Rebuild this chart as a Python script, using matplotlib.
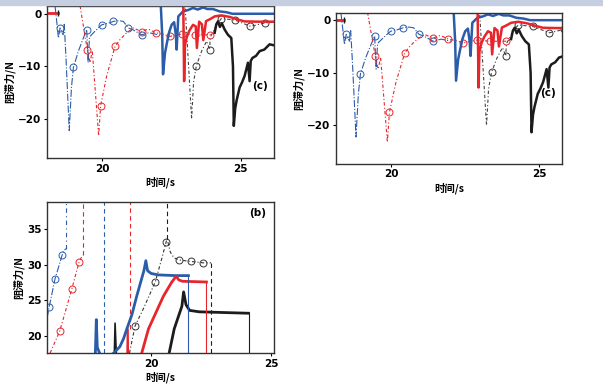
import matplotlib
matplotlib.use("Agg")
import matplotlib.pyplot as plt
from matplotlib.patches import Rectangle

plt.rcParams['font.family'] = ['Noto Sans CJK SC', 'DejaVu Sans']
plt.rcParams['font.weight'] = 'bold'

BLUE = '#2a5caa'
RED = '#e8252b'
BLACK = '#1c1c1c'

# ---- panel (c): drag force while leaving ----
c_red_start_x = [18.0, 18.4]
c_red_start_y = [0.1, 0.1]

c_blue_dd_x = [18.31, 18.38, 18.43, 18.49, 18.6, 18.64, 18.7, 18.82, 18.9, 18.97,
               19.15, 19.33, 19.45, 19.5, 19.55, 19.75, 19.93, 19.99, 20.23,
               20.41, 20.6, 20.77, 20.95, 21.1, 21.43, 21.7, 22.03]
c_blue_dd_y = [1.4, -2.0, -4.6, -2.7, -4.0, -2.0, -8.0, -22.2, -14.0, -10.2,
               -7.1, -4.6, -3.0, -9.3, -4.4, -3.3, -2.4, -2.1, -1.8,
               -1.45, -1.3, -1.45, -2.7, -3.0, -4.0, -3.6, -4.0]
c_blue_circ_x = [18.49, 18.97, 19.45, 19.99, 20.41, 20.95, 21.43]
c_blue_circ_y = [-2.7, -10.2, -3.0, -2.1, -1.45, -2.7, -4.0]

c_red_dd_x = [19.21, 19.35, 19.47, 19.57, 19.65, 19.88, 19.95, 20.17, 20.47, 20.65,
              20.89, 21.13, 21.43, 21.67, 21.94, 22.2, 22.45, 22.9, 23.35, 23.88, 24.0]
c_red_dd_y = [1.5, -3.0, -6.8, -9.3, -7.0, -23.2, -17.5, -11.8, -6.2, -4.9,
              -3.6, -2.7, -3.4, -2.9, -3.6, -3.9, -4.3, -3.8, -4.0, -4.0, -3.8]
c_red_circ_x = [19.47, 19.95, 20.47, 21.43, 21.94, 22.45, 22.9, 23.35, 23.88]
c_red_circ_y = [-6.8, -17.5, -6.2, -3.4, -3.6, -4.3, -3.8, -4.0, -4.0]

c_black_dd_x = [23.0, 23.1, 23.23, 23.3, 23.4, 23.59, 23.77, 23.88, 23.9, 24.13,
                24.3, 24.8, 25.35, 25.86, 26.2]
c_black_dd_y = [1.0, -8.0, -20.0, -13.0, -9.9, -7.1, -5.2, -6.8, -4.5, -2.1,
                -0.9, -1.2, -2.4, -1.75, -1.6]
c_black_circ_x = [23.4, 23.88, 24.3, 24.8, 25.35, 25.86]
c_black_circ_y = [-9.9, -6.8, -0.9, -1.2, -2.4, -1.75]

c_blue_x = [22.12, 22.17, 22.2, 22.27, 22.33, 22.42, 22.51, 22.6, 22.66, 22.69, 22.75,
            22.92, 23.1, 23.28, 23.45, 23.64, 23.8, 24.0, 24.24, 24.48, 24.7, 26.2]
c_blue_y = [1.5, -4.0, -11.5, -7.5, -5.8, -3.5, -2.1, -1.6, -4.0, -6.8, -0.5,
            0.45, 0.7, 1.1, 0.8, 1.2, 0.9, 0.9, 0.45, 0.3, 0.0, 0.0]

c_red_x = [22.93, 22.96, 22.99, 23.05, 23.15, 23.28, 23.38, 23.42, 23.5, 23.6, 23.65,
           23.75, 23.9, 24.06, 24.3, 24.6, 24.9, 25.14, 25.6, 26.2]
c_red_y = [1.5, -12.8, -6.0, -4.5, -3.2, -2.1, -2.4, -6.5, -1.5, -2.0, -5.0,
           -1.4, -1.0, -0.5, -0.3, -0.6, -1.1, -1.45, -1.5, -1.5]

c_black_x = [24.06, 24.12, 24.18, 24.25, 24.32, 24.42, 24.54, 24.66, 24.72, 24.75,
             24.8, 24.85, 24.96, 25.05, 25.14, 25.26, 25.32, 25.36, 25.42, 25.55,
             25.68, 25.85, 26.04, 26.2]
c_black_y = [-3.6, -2.0, -1.45, -2.5, -1.8, -3.0, -4.0, -4.6, -10.0, -21.3,
             -18.0, -16.5, -14.0, -13.0, -11.8, -9.3, -12.8, -9.0, -8.4, -8.0,
             -7.1, -6.8, -5.8, -6.0]

# ---- panel (b): drag force while entering ----
b_blue_dd_x = [15.67, 15.76, 16.0, 16.3, 16.35, 16.45]
b_blue_dd_y = [22.5, 24.1, 28.0, 31.4, 31.9, 32.3]
b_blue_circ_x = [15.76, 16.0, 16.3]
b_blue_circ_y = [24.1, 28.0, 31.4]

b_red_dd_x = [15.8, 16.2, 16.7, 17.0, 17.15]
b_red_dd_y = [17.6, 20.7, 26.6, 30.4, 31.4]
b_red_circ_x = [16.2, 16.7, 17.0]
b_red_circ_y = [20.7, 26.6, 30.4]

b_black_dd_x = [19.1, 19.33, 19.7, 20.17, 20.45, 20.62, 20.66, 20.8, 20.95,
                21.17, 21.64, 22.15, 22.49]
b_black_dd_y = [17.6, 21.4, 24.0, 27.6, 31.0, 33.2, 33.7, 31.8, 31.0,
                30.7, 30.5, 30.3, 30.3]
b_black_circ_x = [19.33, 20.17, 20.62, 21.17, 21.64, 22.15]
b_black_circ_y = [21.4, 27.6, 33.2, 30.7, 30.5, 30.3]

b_blue_x = [17.68, 17.72, 17.76, 17.9, 18.2, 18.45, 18.7, 18.85, 18.99, 19.2,
            19.4, 19.6, 19.7, 19.78, 19.85, 20.0, 20.3, 21.0, 21.55]
b_blue_y = [17.6, 22.3, 18.4, 17.2, 17.0, 17.6, 18.5, 19.6, 21.0, 23.0,
            25.6, 28.0, 29.2, 30.6, 29.2, 28.8, 28.6, 28.5, 28.5]

b_red_x = [19.61, 19.89, 20.2, 20.51, 20.86, 21.04, 21.15, 21.3, 22.3]
b_red_y = [17.6, 21.0, 23.3, 25.6, 27.6, 28.4, 27.9, 27.7, 27.6]

b_black_x = [20.75, 20.96, 21.1, 21.28, 21.35, 21.45, 21.6, 22.0, 23.0, 24.05]
b_black_y = [17.6, 21.0, 22.4, 24.2, 26.2, 24.4, 23.6, 23.4, 23.3, 23.2]

b_spike_red_x = [19.0, 19.02, 19.05]
b_spike_red_y = [17.6, 21.0, 17.6]
b_spike_black_x = [18.47, 18.5, 18.55]
b_spike_black_y = [17.6, 21.8, 17.6]

b_vdash = [(16.45, 32.3, BLUE, (0, (4, 3, 1, 3))),
           (17.18, 31.4, RED, (0, (4, 3))),
           (18.05, 17.6, BLUE, (0, (4, 3))),
           (19.1, 21.0, RED, (0, (4, 3))),
           (20.68, 33.7, BLACK, (0, (4, 3)))]
b_ends = [(21.55, 28.5, BLUE), (22.3, 27.6, RED), (24.05, 23.2, BLACK)]


def style_axes(ax):
    for s in ax.spines.values():
        s.set_linewidth(1.0)
        s.set_color('#333333')
    ax.tick_params(direction='out', length=2.5, width=0.8, labelsize=7.5,
                   pad=1.5, top=False, right=False)
    for lab in ax.get_xticklabels() + ax.get_yticklabels():
        lab.set_fontweight('bold')
        lab.set_family(['DejaVu Sans'])


def draw_c(ax, xlim, ylim):
    ax.plot(c_red_start_x, c_red_start_y, color=RED, lw=2)
    ax.plot([c_red_start_x[-1]], [c_red_start_y[-1]], marker='|', color=BLACK, ms=5)
    ax.plot(c_blue_dd_x, c_blue_dd_y, color=BLUE, lw=0.8, ls='-.')
    ax.plot(c_blue_circ_x, c_blue_circ_y, ls='none', marker='o', mfc='none',
            mec=BLUE, ms=5, mew=0.7)
    ax.plot(c_red_dd_x, c_red_dd_y, color=RED, lw=0.8, ls=(0, (3, 2, 1, 2)))
    ax.plot(c_red_circ_x, c_red_circ_y, ls='none', marker='o', mfc='none',
            mec=RED, ms=5, mew=0.7)
    ax.plot(c_black_dd_x, c_black_dd_y, color='#444444', lw=0.8, ls=(0, (3, 2, 1, 2)))
    ax.plot(c_black_circ_x, c_black_circ_y, ls='none', marker='o', mfc='none',
            mec='#333333', ms=5, mew=0.7)
    ax.plot(c_blue_x, c_blue_y, color=BLUE, lw=1.8)
    ax.plot(c_red_x, c_red_y, color=RED, lw=1.8)
    ax.plot(c_black_x, c_black_y, color=BLACK, lw=1.8)
    ax.set_xlim(*xlim)
    ax.set_ylim(*ylim)
    ax.set_xticks([20, 25])
    ax.set_yticks([0, -10, -20])
    ax.set_xlabel('时间/s', fontsize=7.5, fontweight='bold', labelpad=2)
    ax.set_ylabel('阻滞力/N', fontsize=7.5, fontweight='bold', labelpad=2)
    ax.text(0.975, 0.47, '(c)', transform=ax.transAxes, ha='right', va='center',
            fontsize=7.5, fontweight='bold', family=['DejaVu Sans'])
    style_axes(ax)


fig = plt.figure(figsize=(6.03, 3.92), dpi=100)
fig.patches.append(Rectangle((0, 0.988), 1, 0.012, transform=fig.transFigure,
                             color='#c6cfe1', zorder=0))

ax1 = fig.add_axes([0.078, 0.597, 0.376, 0.388])
draw_c(ax1, (18.02, 26.19), (-27.4, 1.5))

ax2 = fig.add_axes([0.557, 0.582, 0.375, 0.384])
draw_c(ax2, (18.14, 25.78), (-27.3, 1.3))

ax3 = fig.add_axes([0.078, 0.0995, 0.376, 0.384])
ylo, yhi = 17.6, 38.8
ax3.plot(b_blue_dd_x, b_blue_dd_y, color=BLUE, lw=0.8, ls='-.')
ax3.plot(b_blue_circ_x, b_blue_circ_y, ls='none', marker='o', mfc='none',
         mec=BLUE, ms=5, mew=0.7)
ax3.plot(b_red_dd_x, b_red_dd_y, color=RED, lw=0.8, ls=(0, (3, 2, 1, 2)))
ax3.plot(b_red_circ_x, b_red_circ_y, ls='none', marker='o', mfc='none',
         mec=RED, ms=5, mew=0.7)
ax3.plot(b_black_dd_x, b_black_dd_y, color='#333333', lw=0.8, ls=(0, (3, 2, 1, 2)))
ax3.plot(b_black_circ_x, b_black_circ_y, ls='none', marker='o', mfc='none',
         mec='#333333', ms=5, mew=0.7)
for x, y0, col, ls in b_vdash:
    ax3.plot([x, x], [y0, yhi], color=col, lw=0.8, ls=ls)
ax3.plot([22.49, 22.49], [ylo, 30.3], color=BLACK, lw=0.8, ls=(0, (4, 3)))
ax3.plot(b_spike_red_x, b_spike_red_y, color=RED, lw=1.2)
ax3.plot(b_spike_black_x, b_spike_black_y, color=BLACK, lw=1.2)
ax3.plot(b_blue_x, b_blue_y, color=BLUE, lw=2.0)
ax3.plot(b_red_x, b_red_y, color=RED, lw=2.0)
ax3.plot(b_black_x, b_black_y, color=BLACK, lw=2.0)
for x, y, col in b_ends:
    ax3.plot([x, x], [ylo, y], color=col, lw=0.8)
ax3.set_xlim(15.67, 25.1)
ax3.set_ylim(ylo, yhi)
ax3.set_xticks([20, 25])
ax3.set_yticks([20, 25, 30, 35])
ax3.set_xlabel('时间/s', fontsize=7.5, fontweight='bold', labelpad=2)
ax3.set_ylabel('阻滞力/N', fontsize=7.5, fontweight='bold', labelpad=2)
ax3.text(0.965, 0.93, '(b)', transform=ax3.transAxes, ha='right', va='center',
         fontsize=7.5, fontweight='bold', family=['DejaVu Sans'])
style_axes(ax3)

fig.savefig('out.png', dpi=100)
